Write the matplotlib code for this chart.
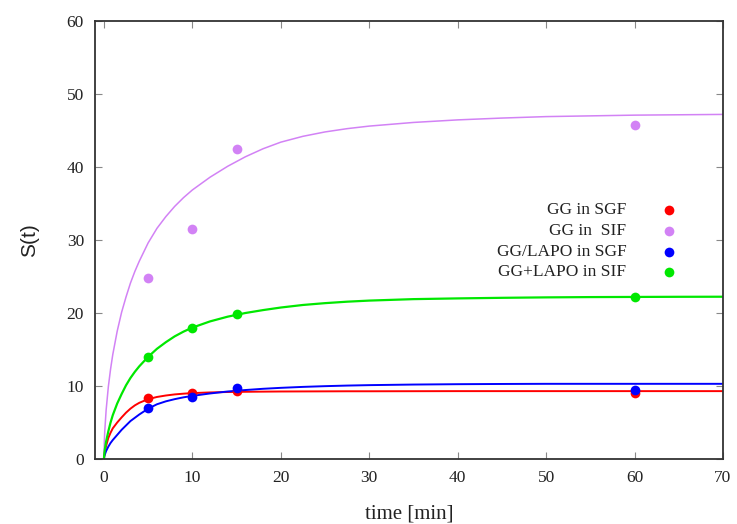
import matplotlib
matplotlib.use("Agg")
import matplotlib.pyplot as plt

# measured data
t_meas = [5, 10, 15, 60]
gg_sgf = [8.4, 9.0, 9.3, 9.1]
gg_sif = [24.8, 31.5, 42.5, 45.8]
lapo_sgf = [7.0, 8.5, 9.7, 9.4]
lapo_sif = [14.0, 18.0, 19.8, 22.2]

# fitted curves
t_fit = [0, 0.05, 0.1, 0.25, 0.5, 0.75, 1, 1.5, 2, 2.5, 3, 3.5, 4, 5, 6, 7, 8, 9, 10,
		 12, 14, 16, 18, 20, 22.5, 25, 27.5, 30, 35, 40, 45, 50, 55, 60, 65, 70]
fit_gg_sgf = [0, 0.7, 1.0, 1.8, 2.9, 3.6, 4.2, 5.0, 5.7, 6.35, 6.9, 7.35, 7.7, 8.2, 8.5,
			  8.7, 8.85, 8.95, 9.03, 9.12, 9.18, 9.21, 9.23, 9.25, 9.26, 9.27, 9.28, 9.28,
			  9.29, 9.3, 9.3, 9.3, 9.3, 9.3, 9.3, 9.3]
fit_gg_sif = [0, 2.5, 3.9, 6.7, 9.9, 12.3, 14.3, 17.5, 20.1, 22.2, 24.1, 25.7, 27.1, 29.6,
			  31.6, 33.2, 34.6, 35.8, 36.85, 38.6, 40.1, 41.4, 42.5, 43.4, 44.2, 44.8, 45.25,
			  45.6, 46.1, 46.45, 46.7, 46.9, 47.0, 47.1, 47.15, 47.2]
fit_lapo_sgf = [0, 0.4, 0.6, 1.1, 1.7, 2.2, 2.6, 3.3, 4.0, 4.6, 5.2, 5.65, 6.1, 6.9, 7.5,
				7.9, 8.2, 8.45, 8.65, 8.98, 9.25, 9.45, 9.62, 9.75, 9.88, 9.98, 10.06, 10.12,
				10.2, 10.25, 10.28, 10.3, 10.3, 10.3, 10.3, 10.3]
fit_lapo_sif = [0, 0.8, 1.3, 2.4, 3.8, 5.0, 6.0, 7.6, 8.9, 10.1, 11.1, 11.95, 12.7, 14.0,
				15.1, 16.0, 16.8, 17.45, 18.0, 18.85, 19.5, 20.0, 20.4, 20.75, 21.1, 21.35,
				21.55, 21.7, 21.9, 22.0, 22.08, 22.14, 22.18, 22.2, 22.22, 22.23]

labels = ["GG in SGF", "GG in  SIF", "GG/LAPO in SGF", "GG+LAPO in SIF"]
colors = ["#ff0000", "#d282f5", "#0000ff", "#00e800"]
x_ticks = [0, 10, 20, 30, 40, 50, 60, 70]
y_ticks = [0, 10, 20, 30, 40, 50, 60]

serif = ["Liberation Serif", "DejaVu Serif"]

fig = plt.figure(figsize=(7.37, 5.24), dpi=100)
ax = fig.add_axes([0.129, 0.124, 0.852, 0.836])

meas = [gg_sgf, gg_sif, lapo_sgf, lapo_sif]
fits = [fit_gg_sgf, fit_gg_sif, fit_lapo_sgf, fit_lapo_sif]
widths = [1.4, 1.1, 1.4, 1.6]
for y, yf, c, lw in zip(meas, fits, colors, widths):
	ax.plot(t_fit, yf, color=c, lw=lw, zorder=2, solid_joinstyle="round")
	ax.plot(t_meas, y, "o", color=c, ms=7, mec="none", zorder=3)

ax.set_xlim(-1, 70)
ax.set_ylim(0, 60)
ax.set_xticks(x_ticks)
ax.set_yticks(y_ticks)
ax.tick_params(direction="in", length=5, width=0.8, color="#888888",
			   top=True, right=True, labelsize=12.5, pad=8)
for lab in ax.get_xticklabels() + ax.get_yticklabels():
	lab.set_family(serif)
	lab.set_color("#222222")
for sp in ax.spines.values():
	sp.set_linewidth(1.3)
	sp.set_color("#333333")

ax.set_xlabel("time [min]", family=serif, fontsize=15, color="#222222", labelpad=13)
ax.set_ylabel("S(t)", family=["Liberation Sans", "DejaVu Sans"], fontsize=15,
			  color="#222222", labelpad=20)

# legend: right aligned text, marker on the right
leg_y = [0.568, 0.521, 0.473, 0.428]
for lab, c, yy in zip(labels, colors, leg_y):
	ax.text(0.846, yy, lab, transform=ax.transAxes, ha="right", va="center",
			family=serif, fontsize=12.5, color="#222222")
	ax.plot([0.914], [yy], "o", color=c, ms=7, mec="none", transform=ax.transAxes)

fig.savefig("out.png", dpi=100)
